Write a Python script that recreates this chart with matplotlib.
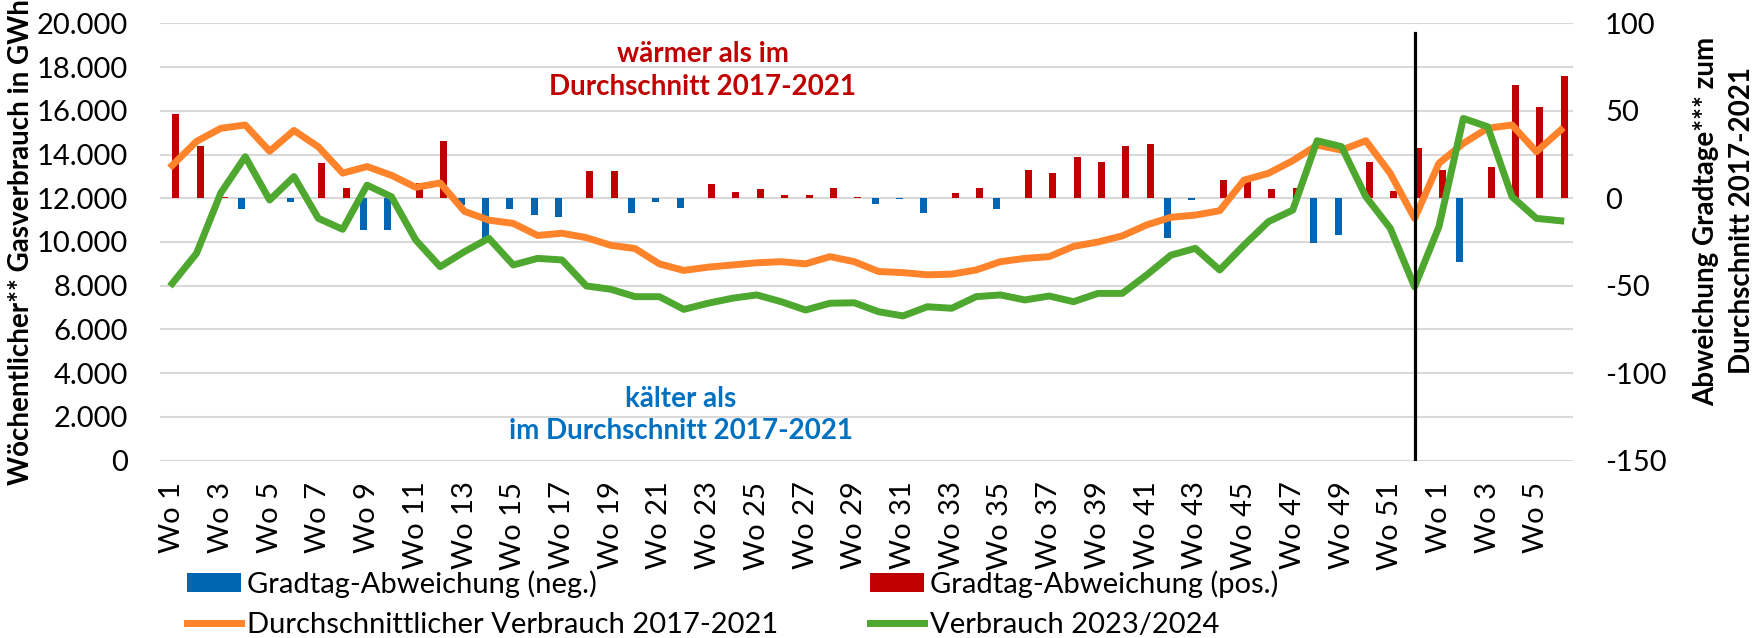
import numpy as np
import matplotlib
matplotlib.use("Agg")
import matplotlib.pyplot as plt
from matplotlib.patches import Patch
from matplotlib.lines import Line2D

plt.rcParams['font.family'] = ['Lato', 'DejaVu Sans']
plt.rcParams['axes.unicode_minus'] = False

# week labels: 52 weeks of 2023 then 6 weeks of 2024
weeks = [f"Wo {i}" for i in range(1, 53)] + [f"Wo {i}" for i in range(1, 7)]

# average consumption 2017-2021 (GWh per week)
avg_2017_2021 = [13500, 14600, 15200, 15350, 14150, 15100, 14350, 13150, 13450, 13050,
                 12500, 12700, 11400, 11000, 10850, 10300, 10400, 10200, 9850, 9700,
                 9000, 8700, 8850, 8950, 9050, 9100, 9000, 9330, 9100, 8650,
                 8600, 8500, 8530, 8720, 9100, 9250, 9330, 9800, 10000, 10280,
                 10780, 11130, 11230, 11430, 12830, 13140, 13720, 14430, 14200, 14630,
                 13140, 11080, 13600, 14510, 15200, 15350, 14130, 15120]

# consumption 2023/2024 (GWh per week)
cons_2023_24 = [8100, 9480, 12250, 13900, 11920, 12990, 11080, 10580, 12600, 12070,
                10090, 8870, 9560, 10170, 8950, 9250, 9180, 7990, 7840, 7500,
                7500, 6920, 7200, 7430, 7580, 7270, 6890, 7200, 7220, 6810,
                6620, 7040, 6970, 7500, 7580, 7350, 7530, 7270, 7650, 7650,
                8490, 9400, 9710, 8720, 9860, 10930, 11460, 14630, 14360, 12070,
                10630, 7950, 10700, 15650, 15270, 12070, 11080, 10970]

# degree-day deviation from 2017-2021 average
gradtag_dev = [48, 30, 1, -6.4, 0, -2.4, 20, 6, -18, -18,
               8.5, 33, -4, -23, -6.4, -9.6, -10.6, 15.7, 15.7, -8.3,
               -2, -5.8, 8, 3.4, 5.3, 2, 2, 6, 0.5, -3.5,
               -0.5, -8.6, 2.8, 5.6, -6.4, 16.3, 14.2, 23.5, 21, 29.8,
               31, -22.6, -0.8, 10.6, 10, 5.4, 5.6, -25.4, -21, 20.9,
               4.3, 28.5, 16.1, -36.3, 17.6, 64.7, 51.9, 70]

year_break = "Wo 52"

BLUE = '#0066B3'
RED = '#C00000'
ORANGE = '#FF832A'
GREEN = '#4EA72E'
GRID = '#D9D9D9'

dev = np.array(gradtag_dev)
dev_neg = np.where(dev < 0, dev, 0)
dev_pos = np.where(dev > 0, dev, 0)
x = np.arange(len(weeks))

fig = plt.figure(figsize=(17.62, 6.38), dpi=100)
ax_bar = fig.add_axes([0.0908, 0.2779, 0.8019, 0.6856])
ax_line = ax_bar.twinx()

# bars (secondary axis, drawn at the back)
bw = 0.287
ax_bar.bar(x - bw / 2, dev_neg, width=bw, color=BLUE, zorder=2)
ax_bar.bar(x + bw / 2, dev_pos, width=bw, color=RED, zorder=2)
ax_bar.set_ylim(-150, 100)
ax_bar.set_yticks(np.arange(-150, 101, 50))
ax_bar.set_yticks(np.arange(-150, 101, 25), minor=True)
ax_bar.set_yticklabels([str(v) for v in range(-150, 101, 50)])
ax_bar.grid(True, axis='y', which='both', color=GRID, linewidth=1.5, zorder=0)
ax_bar.set_axisbelow(True)
ax_bar.yaxis.tick_right()
ax_bar.tick_params(axis='y', which='both', length=0, pad=23, labelsize=21)

# lines (primary axis)
ax_line.plot(x, avg_2017_2021, color=ORANGE, linewidth=5, solid_joinstyle='round', zorder=3)
ax_line.plot(x, cons_2023_24, color=GREEN, linewidth=5, solid_joinstyle='round', zorder=4)
ax_line.axvline(weeks.index(year_break), ymin=0, ymax=0.978, color='black', linewidth=2.3, zorder=5)
ax_line.set_ylim(0, 20000)
ax_line.set_yticks(np.arange(0, 20001, 2000))
ax_line.set_yticklabels([f"{v:,}".replace(',', '.') for v in range(0, 20001, 2000)])
ax_line.yaxis.tick_left()
ax_line.tick_params(axis='y', length=0, pad=23, labelsize=21)

ax_bar.set_xlim(-0.5, len(weeks) - 0.5)
ax_bar.set_xticks(x[::2])
ax_bar.set_xticklabels(weeks[::2], rotation=90, va='top', ha='center')
ax_bar.tick_params(axis='x', length=0, pad=15, labelsize=21)

for a in (ax_bar, ax_line):
    for s in a.spines.values():
        s.set_visible(False)

ax_line.set_ylabel("Wöchentlicher** Gasverbrauch in GWh", fontsize=20, fontweight='bold')
ax_line.yaxis.set_label_position('left')
ax_line.yaxis.set_label_coords(-0.0984, 0.5)
ax_line.yaxis.label.set_verticalalignment('center')

ax_bar.set_ylabel("Abweichung Gradtage*** zum\nDurchschnitt 2017-2021", fontsize=20,
                  fontweight='bold', linespacing=1.5)
ax_bar.yaxis.set_label_position('right')
ax_bar.yaxis.set_label_coords(1.107, 0.548)
ax_bar.yaxis.label.set_verticalalignment('center')

ax_line.text(0.3843, 0.892, "wärmer als im\nDurchschnitt 2017-2021", transform=ax_line.transAxes,
             ha='center', va='center', color=RED, fontsize=20, fontweight='bold', linespacing=1.3)
ax_line.text(0.3687, 0.1045, "kälter als\nim Durchschnitt 2017-2021", transform=ax_line.transAxes,
             ha='center', va='center', color='#0070C0', fontsize=20, fontweight='bold', linespacing=1.3)

h_neg = Patch(facecolor=BLUE, label="Gradtag-Abweichung (neg.)")
h_pos = Patch(facecolor=RED, label="Gradtag-Abweichung (pos.)")
h_avg = Line2D([], [], color=ORANGE, linewidth=5, label="Durchschnittlicher Verbrauch 2017-2021")
h_cur = Line2D([], [], color=GREEN, linewidth=5, label="Verbrauch 2023/2024")

leg_kw = dict(loc='upper left', frameon=False, fontsize=21, handlelength=1.85, handleheight=0.65,
              handletextpad=0.2, labelspacing=0.5, borderpad=0, borderaxespad=0)
fig.legend(handles=[h_neg, h_avg], bbox_to_anchor=(187 / 1762, 1 - 570 / 638), **leg_kw)
fig.legend(handles=[h_pos, h_cur], bbox_to_anchor=(870 / 1762, 1 - 570 / 638), **leg_kw)

fig.savefig("out.png", dpi=100)
